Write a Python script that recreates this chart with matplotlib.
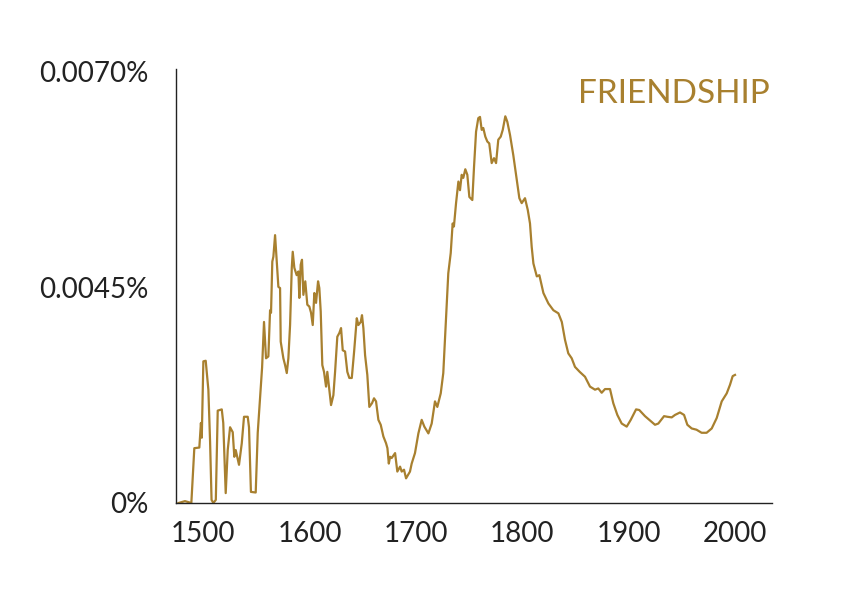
import matplotlib
matplotlib.use("Agg")
import matplotlib.pyplot as plt

# ngram-style frequency of "friendship" (values in %)
years = [1477, 1483, 1489, 1491.8, 1496.5, 1498, 1498.8, 1500.3, 1502.5, 1505,
         1506.6, 1508, 1509.7, 1512, 1513.8, 1517.6, 1519, 1521.3, 1523.2, 1525.4,
         1527.9, 1529.4, 1530.7, 1533.8, 1536.4, 1538.5, 1542, 1543.2, 1545, 1549.5,
         1551.4, 1554.5, 1555.5, 1557.3, 1559.2, 1561.4, 1563, 1563.9, 1565.1, 1566.1,
         1567.7, 1569.3, 1570.8, 1572.4, 1573, 1575.5, 1577.1, 1578.7, 1580.2, 1581.8,
         1583.4, 1584.3, 1585.8, 1588, 1589.6, 1590.5, 1591.8, 1593, 1594.3, 1596.1,
         1598, 1599.9, 1601.5, 1603.1, 1604.6, 1606.2, 1608.1, 1609.3, 1610.6, 1612.1,
         1613.7, 1615.6, 1616.8, 1618.7, 1620.3, 1622.5, 1624.1, 1626.2, 1628.1, 1629.7,
         1631.3, 1633.5, 1635.6, 1637.5, 1639.8, 1642, 1644.5, 1646, 1648.2, 1649.4,
         1650.7, 1652.3, 1654.4, 1656.3, 1658.8, 1660.7, 1662.6, 1664.8, 1667, 1669.5,
         1672, 1673.3, 1674.6, 1675.8, 1677.3, 1680.5, 1682.6, 1685.2, 1686.7, 1688.9,
         1690.8, 1694.5, 1696.1, 1699.2, 1702.4, 1705.5, 1708, 1711.8, 1714.9, 1718,
         1720.2, 1723.4, 1725.8, 1728.4, 1730.5, 1732.8, 1734.6, 1735.8, 1737.8, 1740,
         1741.5, 1743.1, 1744.6, 1746.5, 1748.4, 1750.3, 1753.1, 1754.7, 1756.6, 1758.7,
         1760.3, 1761.9, 1763.4, 1765.3, 1767.2, 1769, 1771.3, 1773.5, 1775.4, 1777.5,
         1779.8, 1781.7, 1784.1, 1786, 1788.5, 1791.6, 1794.8, 1797.3, 1799.5, 1802.6,
         1805.2, 1807.3, 1808.9, 1810.5, 1813.7, 1816.1, 1819.9, 1824.6, 1829.3, 1834,
         1837.2, 1840.2, 1843.3, 1846.5, 1849.6, 1854, 1859, 1863.7, 1868.4, 1871.5,
         1874.7, 1877.8, 1882.5, 1885.6, 1889.4, 1893.5, 1898.2, 1902, 1907, 1910,
         1915.4, 1920.1, 1924.8, 1927.9, 1933.3, 1936.4, 1940.5, 1943.6, 1948.3, 1952.1,
         1955.2, 1959.3, 1963.8, 1968.6, 1973.3, 1978.1, 1982.8, 1987.5, 1992.2, 1995.3,
         1997.8, 2000]
values = [0.0, 0.00003, 0.0, 0.00089, 0.0009, 0.0013, 0.00106, 0.0023, 0.00231, 0.00184,
          0.001, 0.00005, 0.0, 0.00005, 0.0015, 0.00152, 0.0013, 0.00016, 0.00086, 0.00123,
          0.00115, 0.00075, 0.00086, 0.00062, 0.00097, 0.0014, 0.0014, 0.00123, 0.00018, 0.00017,
          0.00114, 0.00195, 0.0022, 0.00294, 0.00235, 0.00238, 0.00313, 0.00309, 0.00392, 0.004,
          0.00435, 0.00392, 0.00351, 0.00349, 0.00262, 0.00235, 0.00224, 0.00211, 0.00235, 0.00289,
          0.00382, 0.00408, 0.00382, 0.0037, 0.00376, 0.00333, 0.00387, 0.00395, 0.00338, 0.0036,
          0.00322, 0.00319, 0.00309, 0.00289, 0.00341, 0.00325, 0.0036, 0.00349, 0.00311, 0.00224,
          0.00213, 0.00189, 0.00213, 0.00184, 0.00159, 0.00175, 0.00213, 0.0027, 0.00276, 0.00284,
          0.00248, 0.00246, 0.00213, 0.00203, 0.00203, 0.00246, 0.00300, 0.00289, 0.00294, 0.00305,
          0.00284, 0.0024, 0.00208, 0.00156, 0.00162, 0.0017, 0.00165, 0.00135, 0.00127, 0.00108,
          0.00097, 0.00089, 0.00064, 0.00075, 0.00073, 0.00081, 0.00051, 0.00059, 0.00051, 0.00054,
          0.0004, 0.00051, 0.00064, 0.00081, 0.00113, 0.00135, 0.00124, 0.00113, 0.00129, 0.00165,
          0.00156, 0.00178, 0.00211, 0.003, 0.00373, 0.00406, 0.00454, 0.00449, 0.00487, 0.00522,
          0.00508, 0.00533, 0.00528, 0.00542, 0.00533, 0.00497, 0.00492, 0.00546, 0.00603, 0.00625,
          0.00627, 0.00606, 0.00609, 0.00595, 0.00587, 0.00584, 0.00552, 0.0056, 0.00552, 0.0059,
          0.00595, 0.00606, 0.00628, 0.00619, 0.00598, 0.00565, 0.00525, 0.00495, 0.00487, 0.00495,
          0.00476, 0.00454, 0.00416, 0.00389, 0.00368, 0.0037, 0.00341, 0.00324, 0.00313, 0.00308,
          0.00294, 0.00265, 0.00243, 0.00235, 0.00221, 0.00213, 0.00205, 0.00189, 0.00184, 0.00186,
          0.00179, 0.00185, 0.00185, 0.00162, 0.00143, 0.00129, 0.00124, 0.00135, 0.00152, 0.00151,
          0.00141, 0.00134, 0.00127, 0.00129, 0.00141, 0.0014, 0.00139, 0.00143, 0.00147, 0.00143,
          0.00127, 0.00121, 0.00119, 0.00114, 0.00114, 0.00121, 0.00138, 0.00165, 0.00178, 0.00192,
          0.00206, 0.00208]

x_ticks = [1500, 1600, 1700, 1800, 1900, 2000]
y_ticks = [0, 0.0035, 0.0070]
y_tick_labels = ["0%", "0.0045%", "0.0070%"]
title = "FRIENDSHIP"

gold = "#a8802f"
ink = "#222222"

plt.rcParams['font.family'] = ['Lato', 'DejaVu Sans']

fig = plt.figure(figsize=(8.41, 5.97), dpi=100)
ax = fig.add_axes([0.2093, 0.1575, 0.7087, 0.7270])

ax.plot(years, values, color=gold, lw=1.6, solid_joinstyle='round')

ax.set_xlim(1474.6, 2034.8)
ax.set_ylim(0, 0.007049)

ax.set_xticks(x_ticks)
ax.set_xticklabels([str(t) for t in x_ticks])
ax.set_yticks(y_ticks)
ax.set_yticklabels(y_tick_labels)
ax.tick_params(axis='both', length=0, labelsize=20, colors=ink)
ax.tick_params(axis='x', pad=13)
ax.tick_params(axis='y', pad=20)

for side in ['top', 'right']:
    ax.spines[side].set_visible(False)
for side in ['left', 'bottom']:
    ax.spines[side].set_color(ink)
    ax.spines[side].set_linewidth(1.0)

ax.text(0.997, 0.9217, title, transform=ax.transAxes, ha='right', va='baseline',
        fontsize=24, color=gold)

fig.savefig("out.png", dpi=100)
